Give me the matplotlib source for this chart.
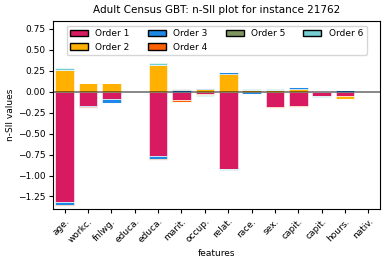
import numpy as np
import matplotlib
matplotlib.use("Agg")
import matplotlib.pyplot as plt
from matplotlib.patches import Patch

features = ["age.", "workc.", "fnlwg.", "educa.", "educa.", "marit.", "occup.",
            "relat.", "race.", "sex.", "capit.", "capit.", "hours.", "nativ."]

order_1 = [-1.315, -0.170, -0.093, 0.0, -0.765, -0.100, -0.030, -0.920, -0.005, -0.185, -0.170, -0.055, -0.058, 0.0]
order_2 = [0.255, 0.098, 0.100, 0.0, 0.315, 0.0, 0.030, 0.205, 0.020, 0.020, 0.035, 0.0, -0.028, 0.0]
order_3 = [-0.040, -0.012, -0.040, 0.0, -0.040, 0.015, 0.010, 0.025, -0.020, 0.0, 0.020, 0.0, 0.015, 0.0]
order_4 = [-0.012, -0.012, -0.005, 0.0, -0.010, -0.020, -0.012, -0.008, 0.0, -0.012, -0.012, 0.0, 0.0, 0.0]
order_5 = [0.0, 0.0, 0.0, 0.0, 0.0, 0.010, 0.0, 0.0, 0.0, 0.0, 0.0, 0.0, 0.006, 0.0]
order_6 = [0.030, 0.007, 0.0, 0.0, 0.020, 0.0, -0.008, -0.008, 0.008, 0.010, 0.0, -0.005, 0.0, 0.0]

orders = [order_1, order_2, order_3, order_4, order_5, order_6]
order_names = ["Order 1", "Order 2", "Order 3", "Order 4", "Order 5", "Order 6"]
colors = ["#D81B60", "#FFB000", "#1E88E5", "#FE6100", "#7F975F", "#74CED2"]

plt.rcParams["font.size"] = 6.5

fig, ax = plt.subplots(figsize=(3.87, 2.63), dpi=100)
fig.subplots_adjust(left=0.137, right=0.982, top=0.920, bottom=0.205)

x = np.arange(len(features))
ref_pos = np.zeros(len(features))
ref_neg = np.zeros(len(features))
for vals, col in zip(orders, colors):
    vals = np.array(vals)
    pos = np.where(vals > 0, vals, 0)
    neg = np.where(vals < 0, vals, 0)
    ax.bar(x, pos, bottom=ref_pos, color=col, width=0.8, edgecolor="white", linewidth=0.4)
    ax.bar(x, neg, bottom=ref_neg, color=col, width=0.8, edgecolor="white", linewidth=0.4)
    ref_pos += pos
    ref_neg += neg

ax.axhline(0, color="black", linewidth=1.2, alpha=0.55)

handles = [Patch(facecolor=c, edgecolor="black", label=n) for c, n in zip(colors, order_names)]
ax.legend(handles=handles, loc="upper center", ncol=4, fontsize=6.5)

ax.set_xticks(x)
ax.set_xticklabels(features, rotation=45, ha="right", rotation_mode="anchor")
ax.tick_params(length=3, pad=2.5)
ax.set_xlim(-0.5, len(features) - 0.5)
ax.set_ylim(-1.40, 0.84)
ax.set_yticks([0.75, 0.5, 0.25, 0.0, -0.25, -0.5, -0.75, -1.0, -1.25])
ax.set_xlabel("features", labelpad=3)
ax.set_ylabel("n-SII values", labelpad=2)
ax.set_title("Adult Census GBT: n-SII plot for instance 21762", fontsize=7.5)

fig.savefig("out.png", dpi=100)
